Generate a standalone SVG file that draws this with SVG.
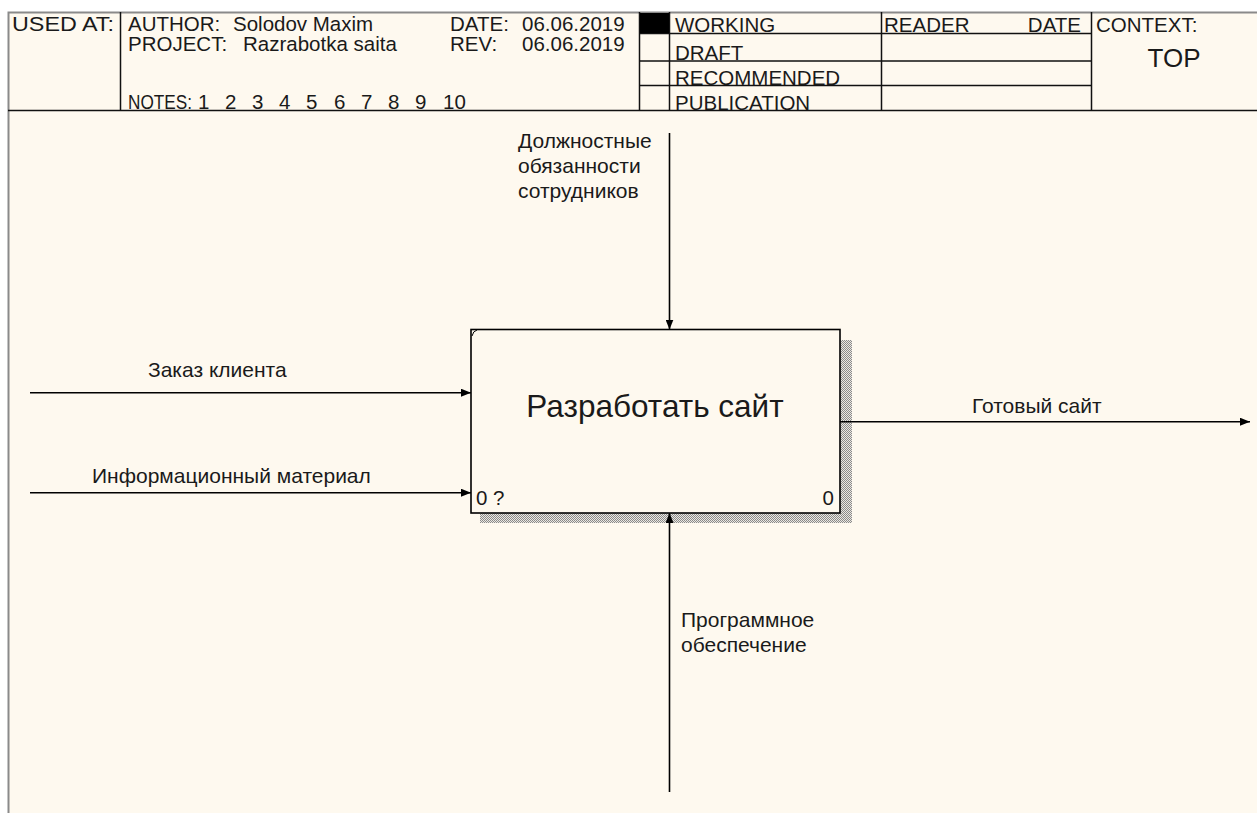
<svg xmlns="http://www.w3.org/2000/svg" width="1257" height="813" viewBox="0 0 1257 813">
<style>
.t{font-family:"Liberation Sans",Arial,sans-serif;fill:#1a1a1a}
.h{font-size:20.5px}
.l{font-size:21px}
.ln{stroke:#111;stroke-width:1.5;fill:none}
.cn{stroke:#000;stroke-width:1.6;fill:none}
</style>
<defs>
<marker id="ah" viewBox="0 0 10 8" refX="10" refY="4" markerWidth="10" markerHeight="8" markerUnits="userSpaceOnUse" orient="auto">
<path d="M0,0 L10,4 L0,8 z" fill="#000"/>
</marker>
<pattern id="hatch" width="2" height="2" patternUnits="userSpaceOnUse">
<rect width="2" height="2" fill="#ebe8e1"/>
<rect width="1" height="1" fill="#8a8a8a"/>
<rect x="1" y="1" width="1" height="1" fill="#8a8a8a"/>
</pattern>
</defs>
<rect width="1257" height="813" fill="#ffffff"/>
<rect x="8" y="12" width="1249" height="801" fill="#fef9ef"/>
<path d="M8.5,813 V12.5 H1257" stroke="#8a8a8a" stroke-width="2" fill="none"/>

<g id="header">
<path class="ln" d="M8,110.5 H1257 M120.5,12 V110 M639.5,12 V110 M669.5,12 V110 M881.5,12 V110 M1091.5,12 V110 M639,33.5 H1091 M639,61 H1091 M639,85.5 H1091"/>
<rect x="640" y="13" width="29" height="20" fill="#000"/>
<text class="t h" x="12" y="31" textLength="102" lengthAdjust="spacingAndGlyphs">USED AT:</text>
<text class="t h" x="128" y="31">AUTHOR:</text>
<text class="t h" x="233" y="31">Solodov Maxim</text>
<text class="t h" x="128" y="51">PROJECT:</text>
<text class="t h" x="243" y="51">Razrabotka saita</text>
<text class="t h" x="128" y="109" textLength="64" lengthAdjust="spacingAndGlyphs">NOTES:</text>
<text class="t h" x="198" y="109">1</text>
<text class="t h" x="225" y="109">2</text>
<text class="t h" x="252" y="109">3</text>
<text class="t h" x="279" y="109">4</text>
<text class="t h" x="306" y="109">5</text>
<text class="t h" x="334" y="109">6</text>
<text class="t h" x="361" y="109">7</text>
<text class="t h" x="388" y="109">8</text>
<text class="t h" x="415" y="109">9</text>
<text class="t h" x="443" y="109">10</text>
<text class="t h" x="450" y="31">DATE:</text>
<text class="t h" x="522" y="31">06.06.2019</text>
<text class="t h" x="450" y="51">REV:</text>
<text class="t h" x="522" y="51">06.06.2019</text>
<text class="t h" x="675" y="32">WORKING</text>
<text class="t h" x="675" y="60">DRAFT</text>
<text class="t h" x="675" y="85">RECOMMENDED</text>
<text class="t h" x="675" y="110">PUBLICATION</text>
<text class="t h" x="884" y="32">READER</text>
<text class="t h" x="1081" y="32" text-anchor="end">DATE</text>
<text class="t h" x="1096" y="32">CONTEXT:</text>
<text class="t" x="1174" y="67" font-size="26" text-anchor="middle">TOP</text>
</g>

<g id="node-A0">
<rect x="480" y="513" width="372" height="10" fill="url(#hatch)"/>
<rect x="840" y="340" width="12" height="183" fill="url(#hatch)"/>
<rect x="471" y="329.5" width="369" height="183.5" fill="#fef9ef" stroke="#000" stroke-width="1.6"/>
<path d="M472,336 Q473,331 477,330" stroke="#000" stroke-width="1" fill="none"/>
<text class="t" x="655" y="417" font-size="31.5" text-anchor="middle">Разработать сайт</text>
<text class="t h" x="476" y="505">0 ?</text>
<text class="t h" x="834" y="505" text-anchor="end">0</text>
</g>

<g id="connectors">
<line class="cn" x1="30" y1="392.7" x2="471" y2="392.7" marker-end="url(#ah)"/>
<line class="cn" x1="30" y1="492.7" x2="471" y2="492.7" marker-end="url(#ah)"/>
<line class="cn" x1="840" y1="421.7" x2="1250" y2="421.7" marker-end="url(#ah)"/>
<line class="cn" x1="669.5" y1="133" x2="669.5" y2="329.5" marker-end="url(#ah)"/>
<line class="cn" x1="669.5" y1="792" x2="669.5" y2="513" marker-end="url(#ah)"/>
</g>

<g id="labels">
<text class="t l" x="148" y="377">Заказ клиента</text>
<text class="t l" x="92" y="483">Информационный материал</text>
<text class="t l" x="972" y="413">Готовый сайт</text>
<text class="t l" x="518" y="148">Должностные</text>
<text class="t l" x="518" y="173">обязанности</text>
<text class="t l" x="518" y="198">сотрудников</text>
<text class="t l" x="681" y="627">Программное</text>
<text class="t l" x="681" y="652">обеспечение</text>
</g>
</svg>
